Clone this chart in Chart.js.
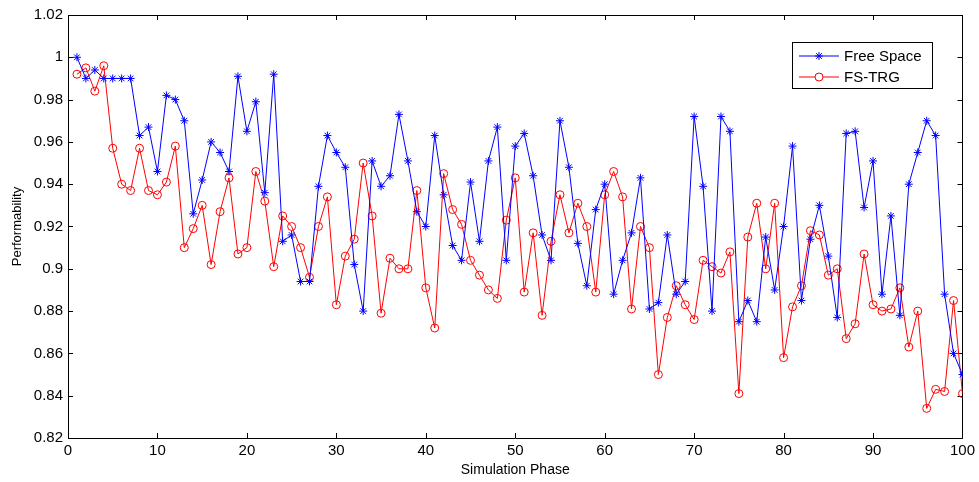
<!DOCTYPE html>
<html>
<head>
<meta charset="utf-8">
<script src="https://cdn.jsdelivr.net/npm/chart.js@4.4.1/dist/chart.umd.min.js"></script>
<style>
  html, body { margin: 0; padding: 0; background: #fff; }
  #wrap { width: 979px; height: 482px; }
</style>
</head>
<body>
<div id="wrap"><canvas id="chart"></canvas></div>
<script>
// Simulation phases 1..100
const phases = Array.from({ length: 100 }, (_, i) => i + 1);

const freeSpace = [
  1.000, 0.990, 0.994, 0.990, 0.990, 0.990, 0.990, 0.963, 0.967, 0.946,
  0.982, 0.980, 0.970, 0.926, 0.942, 0.960, 0.955, 0.946, 0.991, 0.965,
  0.979, 0.936, 0.992, 0.913, 0.916, 0.894, 0.894, 0.939, 0.963, 0.955,
  0.948, 0.902, 0.880, 0.951, 0.939, 0.944, 0.973, 0.951, 0.927, 0.920,
  0.963, 0.935, 0.911, 0.904, 0.941, 0.913, 0.951, 0.967, 0.904, 0.958,
  0.964, 0.944, 0.916, 0.904, 0.970, 0.948, 0.912, 0.892, 0.928, 0.940,
  0.888, 0.904, 0.917, 0.943, 0.881, 0.884, 0.916, 0.888, 0.894, 0.972,
  0.939, 0.880, 0.972, 0.965, 0.875, 0.885, 0.875, 0.915, 0.890, 0.920,
  0.958, 0.885, 0.914, 0.930, 0.906, 0.877, 0.964, 0.965, 0.929, 0.951,
  0.888, 0.925, 0.878, 0.940, 0.955, 0.970, 0.963, 0.888, 0.860, 0.850
];

const fsTrg = [
  0.992, 0.995, 0.984, 0.996, 0.957, 0.940, 0.937, 0.957, 0.937, 0.935,
  0.941, 0.958, 0.910, 0.919, 0.930, 0.902, 0.927, 0.943, 0.907, 0.910,
  0.946, 0.932, 0.901, 0.925, 0.920, 0.910, 0.896, 0.920, 0.934, 0.883,
  0.906, 0.914, 0.950, 0.925, 0.879, 0.905, 0.900, 0.900, 0.937, 0.891,
  0.872, 0.945, 0.928, 0.921, 0.904, 0.897, 0.890, 0.886, 0.923, 0.943,
  0.889, 0.917, 0.878, 0.913, 0.935, 0.917, 0.931, 0.920, 0.889, 0.935,
  0.946, 0.934, 0.881, 0.920, 0.910, 0.850, 0.877, 0.892, 0.883, 0.876,
  0.904, 0.901, 0.898, 0.908, 0.841, 0.915, 0.931, 0.900, 0.931, 0.858,
  0.882, 0.892, 0.918, 0.916, 0.897, 0.900, 0.867, 0.874, 0.907, 0.883,
  0.880, 0.881, 0.891, 0.863, 0.880, 0.834, 0.843, 0.842, 0.885, 0.841
];

const xTicks = [0, 10, 20, 30, 40, 50, 60, 70, 80, 90, 100];
const yTicks = [0.82, 0.84, 0.86, 0.88, 0.90, 0.92, 0.94, 0.96, 0.98, 1.00, 1.02];

const fontFamily = "'Liberation Sans', Arial, sans-serif";

// MATLAB-style box with inward ticks on all four sides
const boxPlugin = {
  id: 'matlabBox',
  beforeDatasetsDraw(chart) {
    const { ctx, chartArea: a, scales } = chart;
    const len = 5;
    ctx.save();
    ctx.strokeStyle = '#000';
    ctx.lineWidth = 1;
    ctx.beginPath();
    ctx.rect(Math.round(a.left) + 0.5, Math.round(a.top) + 0.5,
             Math.round(a.right - a.left), Math.round(a.bottom - a.top));
    xTicks.forEach(v => {
      const x = Math.round(scales.x.getPixelForValue(v)) + 0.5;
      ctx.moveTo(x, a.bottom); ctx.lineTo(x, a.bottom - len);
      ctx.moveTo(x, a.top); ctx.lineTo(x, a.top + len);
    });
    yTicks.forEach(v => {
      const y = Math.round(scales.y.getPixelForValue(v)) + 0.5;
      ctx.moveTo(a.left, y); ctx.lineTo(a.left + len, y);
      ctx.moveTo(a.right, y); ctx.lineTo(a.right - len, y);
    });
    ctx.stroke();
    ctx.restore();
  }
};

// Boxed legend in the upper right, drawn from the datasets
const legendPlugin = {
  id: 'boxLegend',
  afterDraw(chart) {
    const { ctx } = chart;
    const bx = 792.5, by = 42.5, bw = 140, bh = 46;
    ctx.save();
    ctx.fillStyle = '#fff';
    ctx.strokeStyle = '#000';
    ctx.lineWidth = 1;
    ctx.fillRect(bx, by, bw, bh);
    ctx.strokeRect(bx, by, bw, bh);
    chart.data.datasets.forEach((ds, i) => {
      const y = 56 + i * 21;
      ctx.strokeStyle = ds.borderColor;
      ctx.lineWidth = 1;
      ctx.beginPath();
      ctx.moveTo(799, y); ctx.lineTo(839, y);
      ctx.stroke();
      ctx.fillStyle = '#fff';
      Chart.helpers.drawPoint(ctx, {
        pointStyle: ds.pointStyle, radius: ds.pointRadius,
        borderWidth: 1, rotation: 0
      }, 819, y);
      ctx.fillStyle = '#000';
      ctx.font = '15px ' + fontFamily;
      ctx.textBaseline = 'middle';
      ctx.textAlign = 'left';
      ctx.fillText(ds.label, 844, y + 1);
    });
    ctx.restore();
  }
};

new Chart(document.getElementById('chart'), {
  type: 'line',
  data: {
    datasets: [
      {
        label: 'Free Space',
        data: phases.map((p, i) => ({ x: p, y: freeSpace[i] })),
        borderColor: '#0000ff',
        backgroundColor: 'rgba(0,0,0,0)',
        borderWidth: 1,
        pointStyle: 'star',
        pointRadius: 4,
        pointBorderWidth: 1,
        pointBorderColor: '#0000ff',
        tension: 0
      },
      {
        label: 'FS-TRG',
        data: phases.map((p, i) => ({ x: p, y: fsTrg[i] })),
        borderColor: '#ff0000',
        backgroundColor: 'rgba(0,0,0,0)',
        borderWidth: 1,
        pointStyle: 'circle',
        pointRadius: 4,
        pointBorderWidth: 1,
        pointBorderColor: '#ff0000',
        pointBackgroundColor: 'rgba(0,0,0,0)',
        tension: 0
      }
    ]
  },
  options: {
    responsive: true,
    maintainAspectRatio: false,
    animation: false,
    layout: { padding: { top: 15, right: 16, left: 0, bottom: 0 } },
    plugins: {
      legend: { display: false },
      tooltip: { enabled: false }
    },
    scales: {
      x: {
        type: 'linear',
        min: 0,
        max: 100,
        afterBuildTicks: s => { s.ticks = xTicks.map(v => ({ value: v })); },
        afterFit: s => { s.height = 44; },
        grid: { display: false, drawTicks: false },
        border: { display: false },
        ticks: { color: '#000', font: { family: fontFamily, size: 15 }, padding: 4, maxRotation: 0 },
        title: {
          display: true,
          text: 'Simulation Phase',
          color: '#000',
          font: { family: fontFamily, size: 14 },
          padding: { top: 0, bottom: 3 }
        }
      },
      y: {
        min: 0.82,
        max: 1.02,
        afterBuildTicks: s => { s.ticks = yTicks.map(v => ({ value: v })); },
        afterFit: s => { s.width = 68; },
        grid: { display: false, drawTicks: false },
        border: { display: false },
        ticks: {
          color: '#000',
          font: { family: fontFamily, size: 15 },
          padding: 5,
          callback: v => String(Number(v.toFixed(2)))
        },
        title: {
          display: true,
          text: 'Performability',
          color: '#000',
          font: { family: fontFamily, size: 13 },
          padding: { top: 10, bottom: 0 }
        }
      }
    }
  },
  plugins: [boxPlugin, legendPlugin]
});
</script>
</body>
</html>
